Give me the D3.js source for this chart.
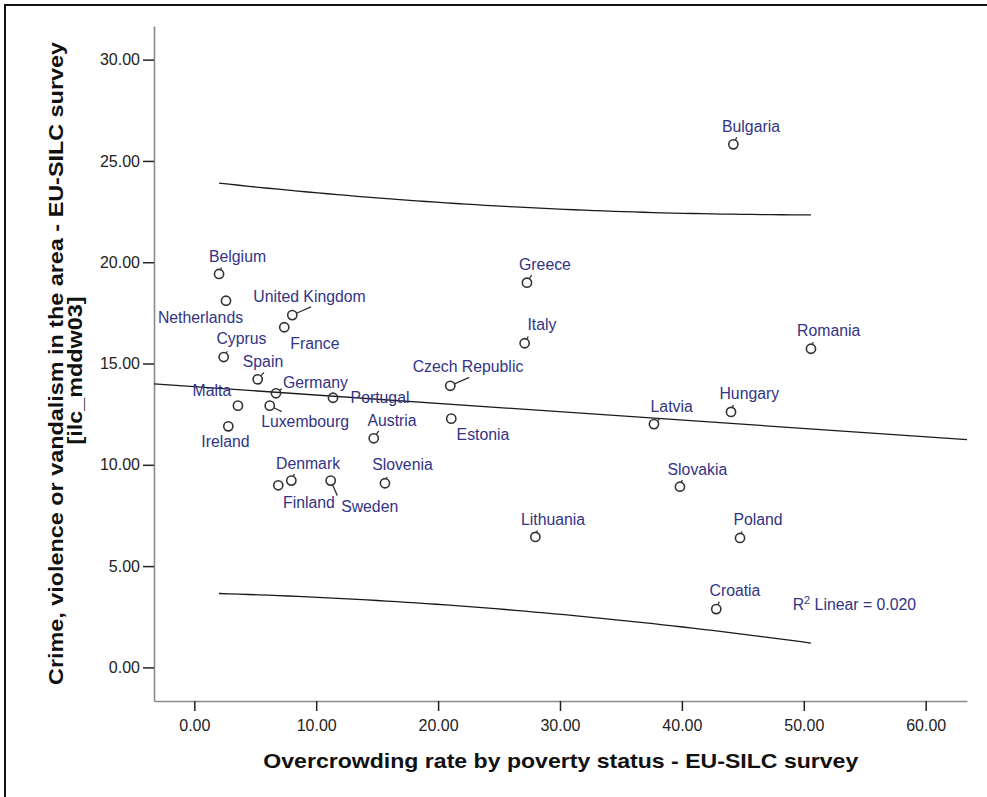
<!DOCTYPE html>
<html><head><meta charset="utf-8">
<script src="https://cdn.jsdelivr.net/npm/d3@7"></script>
<style>body{margin:0;background:#fff;overflow:hidden}</style>
</head><body><svg id="c" width="987" height="797"></svg>
<script>
// ---------------- DATA ----------------
const countries = ["Bulgaria","Belgium","Netherlands","United Kingdom","France","Greece","Italy","Romania",
  "Cyprus","Spain","Czech Republic","Germany","Portugal","Malta","Luxembourg","Estonia","Latvia","Hungary",
  "Ireland","Austria","Denmark","Finland","Sweden","Slovenia","Slovakia","Lithuania","Poland","Croatia"];
const overcrowding = [44.22,2.03,2.60,8.04,7.38,27.29,27.10,50.59,
  2.41,5.20,21.00,6.70,11.38,3.58,6.19,21.08,37.71,44.03,
  2.79,14.72,7.96,6.89,11.19,15.64,39.84,27.98,44.77,42.82];
const crime = [25.82,19.42,18.10,17.39,16.79,18.99,16.00,15.73,
  15.32,14.22,13.90,13.53,13.31,12.92,12.92,12.28,12.01,12.61,
  11.90,11.31,9.22,8.99,9.22,9.09,8.92,6.44,6.39,2.88];
const xTicks = [0,10,20,30,40,50,60];
const yTicks = [0,5,10,15,20,25,30];
const xTitle = "Overcrowding rate by poverty status - EU-SILC survey";
const yTitleLines = ["Crime, violence or vandalism in the area - EU-SILC survey","[ilc_mddw03]"];
const r2Value = "0.020";
const tCrit = 2.0555; // t(0.975, n-2 = 26)

// ---------------- LAYOUT (label offsets in px: text dx, dy, connector end ex, ey) ----------------
const labelLayout = {
  "Bulgaria":[17.7,-12.3,3.4,-7],"Belgium":[18.5,-11.7,2.3,-6.5],"Netherlands":[-25.5,22.3,null,null],
  "United Kingdom":[17.2,-13.3,18.7,-8.3],"France":[30.7,21.7,null,null],"Greece":[18,-12.7,4.7,-7.7],
  "Italy":[17.3,-13.3,3.6,-6.8],"Romania":[17.7,-12.7,2.3,-6.6],"Cyprus":[17.8,-13.5,3.6,-5.8],
  "Spain":[5.3,-12,6.3,-7],"Czech Republic":[17.7,-13.4,19,-8.4],"Germany":[39.5,-5.3,5.7,-4.5],
  "Portugal":[47,5.6,null,null],"Malta":[-26,-10,null,null],"Luxembourg":[35.3,21,12,6],
  "Estonia":[31.7,21.3,null,null],"Latvia":[17.7,-12.3,6,-5.7],"Hungary":[18.3,-12.7,2.3,-7],
  "Ireland":[-2.8,20.4,null,null],"Austria":[18.3,-12.6,5,-7.3],"Denmark":[16.7,-11.7,3,-6.6],
  "Finland":[30.7,22.4,null,null],"Sweden":[39,31,6.6,15],"Slovenia":[17.5,-13.3,2,-6.2],
  "Slovakia":[17.5,-11.7,2.3,-6.7],"Lithuania":[17.7,-12,2,-6.5],"Poland":[18,-13,2,-6.4],
  "Croatia":[18.7,-13.3,3,-7.3]
};

const W = 987, H = 797;
const svg = d3.select("#c");
const plot = {left:154, right:967, top:26, bottom:701};

// scales
const x = d3.scaleLinear().domain([-3.306, 63.39]).range([plot.left, plot.right]);
const y = d3.scaleLinear().domain([-1.658, 31.66]).range([plot.bottom, plot.top]);

// outer frame (cropped)
svg.append("rect").attr("x",5).attr("y",5).attr("width",W+20).attr("height",H+20)
  .attr("fill","none").attr("stroke","#111").attr("stroke-width",2);

const tickFont = "'Liberation Sans', Arial, sans-serif";

// axes
const yAxis = d3.axisLeft(y).tickValues(yTicks).tickFormat(d3.format(".2f")).tickSize(11).tickSizeOuter(0).tickPadding(3);
const xAxis = d3.axisBottom(x).tickValues(xTicks).tickFormat(d3.format(".2f")).tickSize(10).tickSizeOuter(0).tickPadding(9);

const gy = svg.append("g").attr("transform",`translate(${plot.left},0)`).call(yAxis);
const gx = svg.append("g").attr("transform",`translate(0,${plot.bottom})`).call(xAxis);
[gx,gy].forEach(g=>{
  g.select(".domain").attr("stroke","#8a8a8a").attr("stroke-width",1.6);
  g.selectAll(".tick line").attr("stroke","#222").attr("stroke-width",1.5);
  g.selectAll(".tick text").attr("fill","#222").style("font-family",tickFont).style("font-size","16px");
});

// regression from data
const n = overcrowding.length;
const mx = d3.mean(overcrowding), my = d3.mean(crime);
let sxx=0, sxy=0;
for (let i=0;i<n;i++){ sxx += (overcrowding[i]-mx)**2; sxy += (overcrowding[i]-mx)*(crime[i]-my); }
const b = sxy/sxx, a = my - b*mx;
let sse=0;
for (let i=0;i<n;i++){ sse += (crime[i]-(a+b*overcrowding[i]))**2; }
const s = Math.sqrt(sse/(n-2));
const fit = v => a + b*v;
const half = v => tCrit*s*Math.sqrt(1 + 1/n + (v-mx)**2/sxx);

const lineGen = d3.line().x(d=>x(d[0])).y(d=>y(d[1]));
const [xmin,xmax] = d3.extent(overcrowding);
const samples = d3.range(0,61).map(i=>xmin + (xmax-xmin)*i/60);

svg.append("path").attr("d", lineGen(x.domain().map(v=>[v,fit(v)])))
  .attr("fill","none").attr("stroke","#1a1a1a").attr("stroke-width",1.3);
svg.append("path").attr("d", lineGen(samples.map(v=>[v,fit(v)+half(v)])))
  .attr("fill","none").attr("stroke","#1a1a1a").attr("stroke-width",1.3);
svg.append("path").attr("d", lineGen(samples.map(v=>[v,fit(v)-half(v)])))
  .attr("fill","none").attr("stroke","#1a1a1a").attr("stroke-width",1.3);

// points, connectors, labels
const r = 4.6;
const pts = countries.map((c,i)=>({name:c, px:x(overcrowding[i]), py:y(crime[i]), lay:labelLayout[c]}));

const gp = svg.append("g");
pts.forEach(p=>{
  const [dx,dy,ex,ey] = p.lay;
  if (ex!==null){
    const len = Math.hypot(ex,ey);
    if (len > r){
      gp.append("line")
        .attr("x1", p.px + ex/len*r).attr("y1", p.py + ey/len*r)
        .attr("x2", p.px + ex).attr("y2", p.py + ey)
        .attr("stroke","#333").attr("stroke-width",1.3);
    }
  }
  gp.append("circle").attr("cx",p.px).attr("cy",p.py).attr("r",r)
    .attr("fill","none").attr("stroke","#333").attr("stroke-width",1.6);
});
const labelColor = "#333385";
svg.append("g").selectAll("text").data(pts).join("text")
  .attr("x",p=>p.px+p.lay[0]).attr("y",p=>p.py+p.lay[1])
  .attr("text-anchor","middle").attr("fill",labelColor)
  .style("font-family",tickFont).style("font-size","15.8px")
  .text(p=>p.name);

// R^2 annotation
const r2 = svg.append("text").attr("x",792.7).attr("y",610).attr("fill",labelColor)
  .style("font-family",tickFont).style("font-size","15.8px");
r2.append("tspan").text("R");
r2.append("tspan").attr("dy",-6).style("font-size","11px").text("2");
r2.append("tspan").attr("dy",6).text(" Linear = " + r2Value);

// axis titles
svg.append("text").attr("x",560.8).attr("y",768).attr("text-anchor","middle")
  .attr("textLength",595).attr("lengthAdjust","spacingAndGlyphs")
  .style("font-family",tickFont).style("font-size","21px").style("font-weight","bold").attr("fill","#111")
  .text(xTitle);

const yt = svg.append("g").attr("transform","translate(0,363.5) rotate(-90)");
yt.append("text").attr("x",0).attr("y",62.5).attr("text-anchor","middle")
  .attr("textLength",643).attr("lengthAdjust","spacingAndGlyphs")
  .style("font-family",tickFont).style("font-size","21px").style("font-weight","bold").attr("fill","#111")
  .text(yTitleLines[0]);
yt.append("text").attr("x",-7).attr("y",82).attr("text-anchor","middle")
  .attr("textLength",148).attr("lengthAdjust","spacingAndGlyphs")
  .style("font-family",tickFont).style("font-size","21px").style("font-weight","bold").attr("fill","#111")
  .text(yTitleLines[1]);
</script></body></html>
